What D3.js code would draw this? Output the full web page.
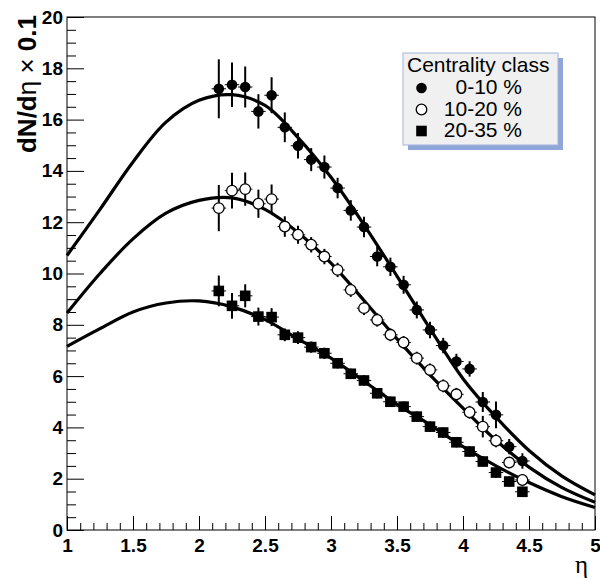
<!DOCTYPE html>
<html>
<head>
<meta charset="utf-8">
<script src="https://cdn.jsdelivr.net/npm/d3@7"></script>
<style>
  body { margin: 0; background: #fff; }
  text { font-family: "Liberation Sans", Arial, sans-serif; }
</style>
</head>
<body>
<div id="chart"></div>
<script>
// measured points, eta bins 2.15 ... 4.45
const eta = [2.15, 2.25, 2.35, 2.45, 2.55, 2.65, 2.75, 2.85, 2.95, 3.05, 3.15, 3.25,
  3.35, 3.45, 3.55, 3.65, 3.75, 3.85, 3.95, 4.05, 4.15, 4.25, 4.35, 4.45];

const cent0_10 = [17.2, 17.36, 17.27, 16.32, 16.95, 15.7, 14.98, 14.44, 14.15, 13.33, 12.46, 11.81,
  10.66, 10.26, 9.56, 8.58, 7.8, 7.19, 6.57, 6.28, 4.99, 4.49, 3.25, 2.69];
const err0_10 = [1.15, 0.87, 0.8, 0.67, 0.7, 0.58, 0.5, 0.45, 0.45, 0.4, 0.4, 0.4,
  0.38, 0.36, 0.35, 0.33, 0.32, 0.3, 0.3, 0.3, 0.39, 0.52, 0.3, 0.3];

const cent10_20 = [12.55, 13.23, 13.29, 12.72, 12.9, 11.83, 11.51, 11.12, 10.66, 10.14, 9.36, 8.65,
  8.19, 7.61, 7.31, 6.7, 6.24, 5.62, 5.29, 4.59, 4.03, 3.48, 2.63, 1.95];
const err10_20 = [0.9, 0.7, 0.65, 0.55, 0.57, 0.4, 0.35, 0.3, 0.3, 0.28, 0.27, 0.27,
  0.26, 0.25, 0.25, 0.25, 0.25, 0.25, 0.25, 0.25, 0.42, 0.25, 0.22, 0.22];

const cent20_35 = [9.32, 8.74, 9.13, 8.32, 8.3, 7.61, 7.5, 7.13, 6.89, 6.5, 6.09, 5.83,
  5.33, 5.0, 4.81, 4.42, 4.03, 3.8, 3.42, 3.06, 2.67, 2.24, 1.89, 1.49];
const err20_35 = [0.6, 0.5, 0.45, 0.35, 0.35, 0.25, 0.25, 0.22, 0.22, 0.2, 0.2, 0.2,
  0.2, 0.2, 0.2, 0.2, 0.2, 0.2, 0.2, 0.2, 0.2, 0.2, 0.2, 0.2];

// fitted curves
const fitEta = [1, 1.25, 1.5, 1.75, 2, 2.25, 2.5, 2.75, 3, 3.25, 3.5, 3.75, 4, 4.25, 4.5, 4.75, 5];
const fit0_10 = [10.7, 12.5, 14.35, 15.9, 16.75, 16.97, 16.55, 15.3, 13.75, 11.9, 9.9, 7.85, 5.9, 4.4, 3.1, 2.1, 1.37];
const fit10_20 = [8.46, 10.0, 11.35, 12.35, 12.85, 12.95, 12.5, 11.6, 10.4, 8.95, 7.45, 6.05, 4.75, 3.5, 2.45, 1.65, 1.08];
const fit20_35 = [7.16, 7.85, 8.5, 8.85, 8.93, 8.7, 8.2, 7.45, 6.7, 5.8, 4.9, 4.1, 3.25, 2.5, 1.85, 1.3, 0.88];

const xTicks = [1, 1.5, 2, 2.5, 3, 3.5, 4, 4.5, 5];
const yTicks = [0, 2, 4, 6, 8, 10, 12, 14, 16, 18, 20];
const legendLabels = ['0-10 %', '10-20 %', '20-35 %'];

const width = 600, height = 580;
const x = d3.scaleLinear().domain([1, 5]).range([67, 595]);
const y = d3.scaleLinear().domain([0, 20]).range([530, 17]);

const svg = d3.select('#chart').append('svg')
  .attr('width', width)
  .attr('height', height);

// frame
svg.append('rect')
  .attr('x', x(1)).attr('y', y(20))
  .attr('width', x(5) - x(1)).attr('height', y(0) - y(20))
  .attr('fill', 'none').attr('stroke', '#000').attr('stroke-width', 1);

// minor ticks
const xMinor = d3.range(10, 51).map((d) => d / 10).filter((d) => Math.round(d * 10) % 5 !== 0);
const yMinor = d3.range(0, 41).map((d) => d / 2).filter((d) => d % 2 !== 0);

svg.append('g')
  .attr('transform', `translate(0,${y(0)})`)
  .call(d3.axisBottom(x).tickValues(xMinor).tickSize(-7).tickFormat(''))
  .call((g) => g.select('.domain').remove());
svg.append('g')
  .attr('transform', `translate(${x(1)},0)`)
  .call(d3.axisLeft(y).tickValues(yMinor).tickSize(-9).tickFormat(''))
  .call((g) => g.select('.domain').remove());

// major ticks + labels
const xAxis = svg.append('g')
  .attr('transform', `translate(0,${y(0)})`)
  .call(d3.axisBottom(x).tickValues(xTicks).tickSize(-14).tickPadding(8.5).tickFormat(d3.format('')));
xAxis.select('.domain').remove();
xAxis.selectAll('text')
  .style('font-family', '"Liberation Sans", Arial, sans-serif')
  .style('font-size', '19px').style('font-weight', 'bold').attr('fill', '#000');

const yAxis = svg.append('g')
  .attr('transform', `translate(${x(1)},0)`)
  .call(d3.axisLeft(y).tickValues(yTicks).tickSize(-17).tickPadding(4));
yAxis.select('.domain').remove();
yAxis.selectAll('text')
  .style('font-family', '"Liberation Sans", Arial, sans-serif')
  .style('font-size', '19px').style('font-weight', 'bold').attr('fill', '#000');

// axis titles
const yTitle = svg.append('text')
  .attr('transform', `translate(36,15) rotate(-90)`)
  .attr('text-anchor', 'end')
  .style('font-size', '26px').style('font-weight', 'bold');
yTitle.append('tspan').text('dN/d');
yTitle.append('tspan').style('font-weight', 'normal').text('η × ');
yTitle.append('tspan').text('0.1');

svg.append('text')
  .attr('x', 588).attr('y', 573)
  .attr('text-anchor', 'end')
  .style('font-family', '"Liberation Serif", "DejaVu Serif", serif')
  .style('font-size', '25px')
  .text('η');

// curves
const line = d3.line()
  .x((d) => x(d[0]))
  .y((d) => y(d[1]))
  .curve(d3.curveCatmullRom.alpha(0.5));

[fit0_10, fit10_20, fit20_35].forEach((fit) => {
  svg.append('path')
    .datum(fitEta.map((e, i) => [e, fit[i]]))
    .attr('d', line)
    .attr('fill', 'none')
    .attr('stroke', '#000')
    .attr('stroke-width', 3.2);
});

// points with error bars
const series = [
  {values: cent0_10, errors: err0_10, marker: 'filled'},
  {values: cent10_20, errors: err10_20, marker: 'open'},
  {values: cent20_35, errors: err20_35, marker: 'square'},
];
const xErr = 0.055;

function drawMarker(g, kind, cx, cy) {
  if (kind === 'filled') {
    g.append('circle').attr('cx', cx).attr('cy', cy).attr('r', 5.3).attr('fill', '#000');
  } else if (kind === 'open') {
    g.append('circle').attr('cx', cx).attr('cy', cy).attr('r', 5.3)
      .attr('fill', '#fff').attr('stroke', '#000').attr('stroke-width', 1.3);
  } else {
    g.append('rect').attr('x', cx - 5.3).attr('y', cy - 5.3)
      .attr('width', 10.6).attr('height', 10.6).attr('fill', '#000');
  }
}

series.forEach((s) => {
  const g = svg.append('g');
  eta.forEach((e, i) => {
    const v = s.values[i], err = s.errors[i];
    g.append('line')
      .attr('x1', x(e)).attr('x2', x(e))
      .attr('y1', y(v - err)).attr('y2', y(v + err))
      .attr('stroke', '#000').attr('stroke-width', 2);
    g.append('line')
      .attr('x1', x(e - xErr)).attr('x2', x(e + xErr))
      .attr('y1', y(v)).attr('y2', y(v))
      .attr('stroke', '#000').attr('stroke-width', 1);
    drawMarker(g, s.marker, x(e), y(v));
  });
});

// legend
const lg = svg.append('g');
lg.append('rect').attr('x', 408).attr('y', 58).attr('width', 155).attr('height', 92)
  .attr('fill', '#8ea6d8');
lg.append('rect').attr('x', 403).attr('y', 53).attr('width', 155).attr('height', 92)
  .attr('fill', '#f0f0f0').attr('stroke', '#a3b3dc').attr('stroke-width', 1);
lg.append('text').attr('x', 407).attr('y', 72)
  .style('font-size', '21px').text('Centrality class');
legendLabels.forEach((label, i) => {
  const yy = 88 + i * 21.5;
  drawMarker(lg, series[i].marker, 421.5, yy);
  lg.append('text').attr('x', 522).attr('y', yy + 6)
    .attr('text-anchor', 'end')
    .style('font-size', '21px').text(label);
});
</script>
</body>
</html>
